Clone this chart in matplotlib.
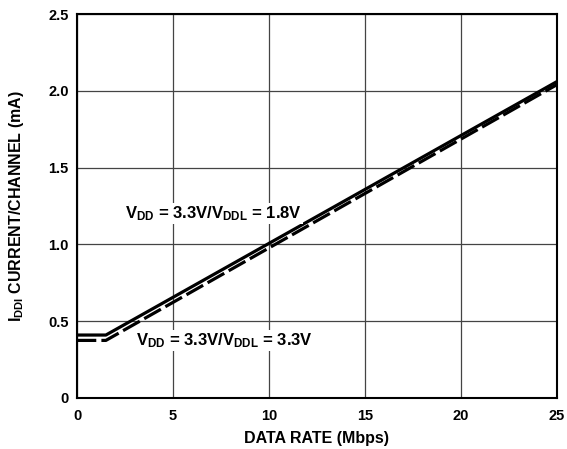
import matplotlib
matplotlib.use("Agg")
import matplotlib.pyplot as plt

plt.rcParams['font.family'] = ['Liberation Sans', 'DejaVu Sans']
plt.rcParams['font.weight'] = 'bold'
plt.rcParams['mathtext.fontset'] = 'custom'
plt.rcParams['mathtext.rm'] = 'Liberation Sans:bold'
plt.rcParams['mathtext.bf'] = 'Liberation Sans:bold'
plt.rcParams['mathtext.it'] = 'Liberation Sans:bold'

x_18 = [0, 1.5, 25]
y_18 = [0.41, 0.41, 2.06]
x_33 = [0, 1.5, 25]
y_33 = [0.375, 0.375, 2.04]
xticks = [0, 5, 10, 15, 20, 25]
yticks = [0, 0.5, 1.0, 1.5, 2.0, 2.5]
yticklabels = ['0', '0.5', '1.0', '1.5', '2.0', '2.5']

fig = plt.figure(figsize=(5.67, 4.49), dpi=100)
ax = fig.add_axes([0.136, 0.1136, 0.846, 0.855])

ax.plot(x_18, y_18, color='black', lw=2.3, solid_capstyle='butt')
ax.plot(x_33, y_33, color='black', lw=2.3, dashes=(6, 1.6))

ax.set_xlim(0, 25)
ax.set_ylim(0, 2.5)
ax.set_xticks(xticks)
ax.set_yticks(yticks)
ax.set_yticklabels(yticklabels)
ax.tick_params(length=0, labelsize=10.5)
ax.tick_params(axis='x', pad=8)
ax.tick_params(axis='y', pad=6)
for lab in ax.get_xticklabels() + ax.get_yticklabels():
    lab.set_fontweight('bold')
ax.grid(True, color='#444444', lw=0.9)
ax.set_axisbelow(True)
for s in ax.spines.values():
    s.set_linewidth(1.5)
    s.set_color('black')

ax.set_xlabel('DATA RATE (Mbps)', fontsize=11.5, fontweight='bold', labelpad=6)
ax.set_ylabel(r'$\mathregular{I_{DDI}}$ CURRENT/CHANNEL (mA)', fontsize=11.5,
              fontweight='bold', labelpad=16)

ax.text(2.5, 1.2, r'$\mathregular{V_{DD}}$ = 3.3V/$\mathregular{V_{DDL}}$ = 1.8V',
        fontsize=12, fontweight='bold', va='center', ha='left',
        bbox=dict(facecolor='white', edgecolor='none', pad=1))
ax.text(3.07, 0.375, r'$\mathregular{V_{DD}}$ = 3.3V/$\mathregular{V_{DDL}}$ = 3.3V',
        fontsize=12, fontweight='bold', va='center', ha='left',
        bbox=dict(facecolor='white', edgecolor='none', pad=1))

fig.savefig('out.png', dpi=100)
